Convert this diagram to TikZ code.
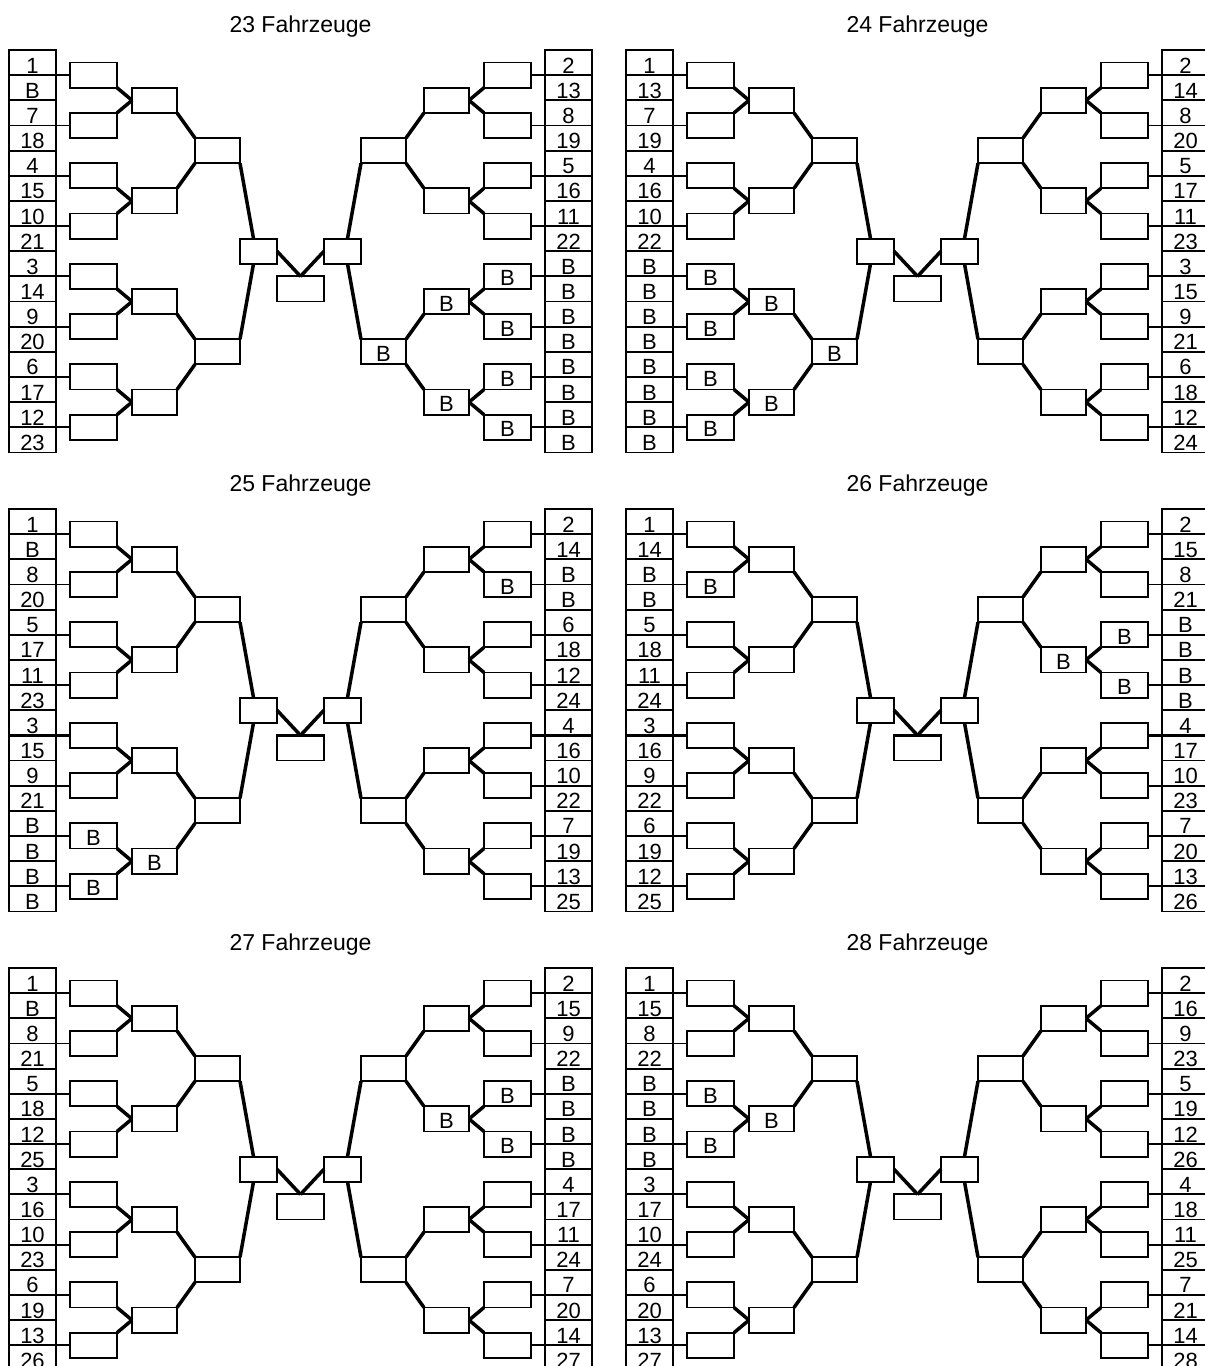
\documentclass[tikz,border=0pt]{standalone}
\usepackage{fontspec}
\setmainfont{Liberation Sans}
\newcommand\lbl{\fontsize{22}{24}\selectfont}
\newcommand\ttl{\fontsize{23}{25}\selectfont}
\def\rh{25.15}
\tikzset{
  box/.style={draw, rectangle, line width=1.8pt, inner sep=0pt, outer sep=0pt, minimum height=25.15pt},
  colbox/.style={box, minimum width=47pt, font=\lbl, text height=21.2pt, text depth=0pt},
  thinc/.style={line width=1.8pt},
  thickc/.style={line width=3.5pt},
  btext/.style={anchor=base, font=\lbl, inner sep=0pt},
  title/.style={font=\ttl, inner sep=0pt, anchor=base}
}
% #1 id, #2 sign, #3 L/R, #4 anchor toward axis, #5 anchor away, #6 labels
\newcommand\side[6]{%
  \foreach \t [count=\k from 0] in {#6} {
    \node[colbox] (#1-#3-n-\k) at (#2*268, {(\k+0.5)*\rh}) {\t};
  }
  \foreach \k in {0,...,7} \node[box, minimum width=47pt] (#1-#3-a-\k) at (#2*207, {(2*\k+1)*\rh}) {};
  \foreach \k in {0,...,3} \node[box, minimum width=45pt] (#1-#3-b-\k) at (#2*146, {(4*\k+2)*\rh}) {};
  \foreach \k in {0,1} \node[box, minimum width=45pt] (#1-#3-c-\k) at (#2*83, {(8*\k+4)*\rh}) {};
  \node[box, minimum width=37pt] (#1-#3-d) at (#2*42, 8*\rh) {};
  \foreach \k [evaluate=\k as \m using int(2*\k)] in {0,...,7}
    \draw[thinc] (#1-#3-n-\m.south #4) -- (#1-#3-a-\k.#5);
  \foreach \j [evaluate=\j as \p using int(2*\j), evaluate=\j as \q using int(2*\j+1)] in {0,...,3} {
    \draw[thickc] (#1-#3-a-\p.south #4) -- (#1-#3-b-\j.#5);
    \draw[thickc] (#1-#3-a-\q.north #4) -- (#1-#3-b-\j.#5);
  }
  \foreach \j [evaluate=\j as \p using int(2*\j), evaluate=\j as \q using int(2*\j+1)] in {0,1} {
    \draw[thickc] (#1-#3-b-\p.south #4) -- (#1-#3-c-\j.north #5);
    \draw[thickc] (#1-#3-b-\q.north #4) -- (#1-#3-c-\j.south #5);
  }
  \draw[thickc] (#1-#3-c-0.south #4) -- ([xshift=#2*5pt]#1-#3-d.north);
  \draw[thickc] (#1-#3-c-1.north #4) -- ([xshift=#2*5pt]#1-#3-d.south);
  \draw[thickc] (#1-#3-d.#4) -- (#1-f.north);
}
% #1 id, #2 axis x, #3 top y, #4 title, #5 left labels, #6 right labels
\newcommand\bracket[6]{%
  \begin{scope}[shift={(#2,#3)}]
    \node[title] (#1-title) at (0,-18) {#4};
    \node[box, minimum width=47pt] (#1-f) at (0, 9.5*\rh) {};
    \side{#1}{-1}{L}{east}{west}{#5}
    \side{#1}{1}{R}{west}{east}{#6}
  \end{scope}}
\newcommand\Bbox[1]{\node[btext] (#1-t) at ([yshift=3pt]#1.south) {B};}
\newcommand\midline[1]{%
  \draw[thickc] (#1-L-n-8.south west) -- (#1-L-a-4.west);
  \draw[thickc] (#1-R-n-8.south east) -- (#1-R-a-4.east);
  \draw[thickc] (#1-f.north west) -- (#1-f.north east);}
\begin{document}
\begin{tikzpicture}[x=1pt,y=-1pt]
\useasboundingbox (0,0) rectangle (1205,1366);
\fill[white] (0,0) rectangle (1205,1366);
\clip (0,0) rectangle (1205,1366);
\bracket{p1}{300.5}{50}{23 Fahrzeuge}{1,B,7,18,4,15,10,21,3,14,9,20,6,17,12,23}{2,13,8,19,5,16,11,22,B,B,B,B,B,B,B,B}
\bracket{p2}{917.5}{50}{24 Fahrzeuge}{1,13,7,19,4,16,10,22,B,B,B,B,B,B,B,B}{2,14,8,20,5,17,11,23,3,15,9,21,6,18,12,24}
\bracket{p3}{300.5}{509}{25 Fahrzeuge}{1,B,8,20,5,17,11,23,3,15,9,21,B,B,B,B}{2,14,B,B,6,18,12,24,4,16,10,22,7,19,13,25}
\bracket{p4}{917.5}{509}{26 Fahrzeuge}{1,14,B,B,5,18,11,24,3,16,9,22,6,19,12,25}{2,15,8,21,B,B,B,B,4,17,10,23,7,20,13,26}
\bracket{p5}{300.5}{968}{27 Fahrzeuge}{1,B,8,21,5,18,12,25,3,16,10,23,6,19,13,26}{2,15,9,22,B,B,B,B,4,17,11,24,7,20,14,27}
\bracket{p6}{917.5}{968}{28 Fahrzeuge}{1,15,8,22,B,B,B,B,3,17,10,24,6,20,13,27}{2,16,9,23,5,19,12,26,4,18,11,25,7,21,14,28}
% B boxes
\Bbox{p1-R-a-4}\Bbox{p1-R-a-5}\Bbox{p1-R-a-6}\Bbox{p1-R-a-7}\Bbox{p1-R-b-2}\Bbox{p1-R-b-3}\Bbox{p1-R-c-1}
\Bbox{p2-L-a-4}\Bbox{p2-L-a-5}\Bbox{p2-L-a-6}\Bbox{p2-L-a-7}\Bbox{p2-L-b-2}\Bbox{p2-L-b-3}\Bbox{p2-L-c-1}
\Bbox{p3-L-a-6}\Bbox{p3-L-a-7}\Bbox{p3-L-b-3}\Bbox{p3-R-a-1}
\Bbox{p4-L-a-1}\Bbox{p4-R-a-2}\Bbox{p4-R-a-3}\Bbox{p4-R-b-1}
\Bbox{p5-R-a-2}\Bbox{p5-R-a-3}\Bbox{p5-R-b-1}
\Bbox{p6-L-a-2}\Bbox{p6-L-a-3}\Bbox{p6-L-b-1}
\midline{p3}
\midline{p4}
\end{tikzpicture}
\end{document}
